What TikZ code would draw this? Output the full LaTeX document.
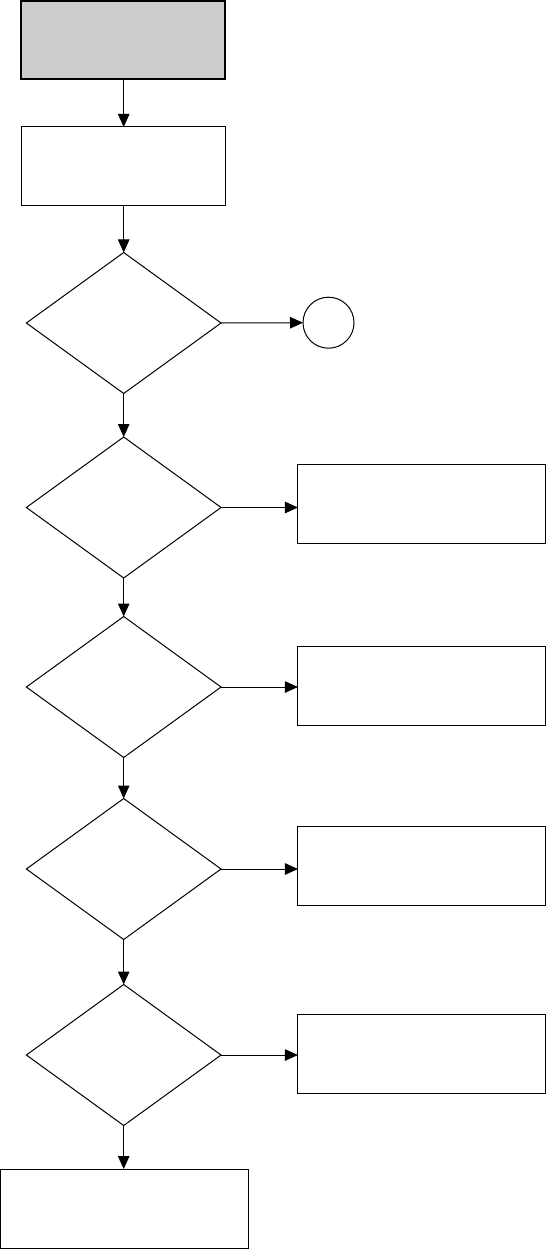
\documentclass[tikz,border=0pt]{standalone}
\usetikzlibrary{shapes.geometric,arrows.meta}
\begin{document}
\begin{tikzpicture}[x=1pt,y=-1pt,
  line width=1pt,
  boxa/.style={draw,rectangle,inner sep=0pt,outer sep=0pt,minimum width=204pt,minimum height=79pt},
  startbox/.style={boxa,fill={rgb,255:red,204;green,204;blue,204},line width=1.8pt,minimum height=78pt},
  sidebox/.style={draw,rectangle,inner sep=0pt,outer sep=0pt,minimum width=247.7pt,minimum height=79pt},
  decide/.style={draw,diamond,inner sep=0pt,outer sep=0pt,aspect=1.38,minimum width=194.7pt,minimum height=141pt},
  conn/.style={draw,circle,inner sep=0pt,outer sep=0pt,minimum size=51pt},
  arr/.style={-{Triangle[length=13pt,width=11.5pt]},line width=1pt}]
\useasboundingbox (0,0) rectangle (546,1249);
\node[startbox] (s) at (123,40) {};
\node[boxa] (b) at (123,166.5) {};
\node[decide] (d1) at (123.7,323) {};
\node[conn] (c) at (328.5,322.7) {};
\node[decide] (d2) at (123.7,507.5) {};
\node[sidebox] (ra) at (421.8,503.7) {};
\node[decide] (d3) at (123.7,687) {};
\node[sidebox] (rb) at (421.8,685.7) {};
\node[decide] (d4) at (123.7,869) {};
\node[sidebox] (rc) at (421.8,865.7) {};
\node[decide] (d5) at (123.7,1055) {};
\node[sidebox] (rd) at (421.8,1053.8) {};
\node[sidebox,minimum width=247.6pt] (e) at (124.5,1208.5) {};
\draw[arr] (d1.north |- s.south) -- (d1.north |- b.north);
\draw[arr] (d1.north |- b.south) -- (d1.north);
\draw[arr] (d1.east) -- (c.west);
\draw[arr] (d1.south) -- (d2.north);
\draw[arr] (d2.east) -- (d2.east -| ra.west);
\draw[arr] (d2.south) -- (d3.north);
\draw[arr] (d3.east) -- (d3.east -| rb.west);
\draw[arr] (d3.south) -- (d4.north);
\draw[arr] (d4.east) -- (d4.east -| rc.west);
\draw[arr] (d4.south) -- (d5.north);
\draw[arr] (d5.east) -- (d5.east -| rd.west);
\draw[arr] (d5.south) -- (d5.south |- e.north);
\end{tikzpicture}
\end{document}
